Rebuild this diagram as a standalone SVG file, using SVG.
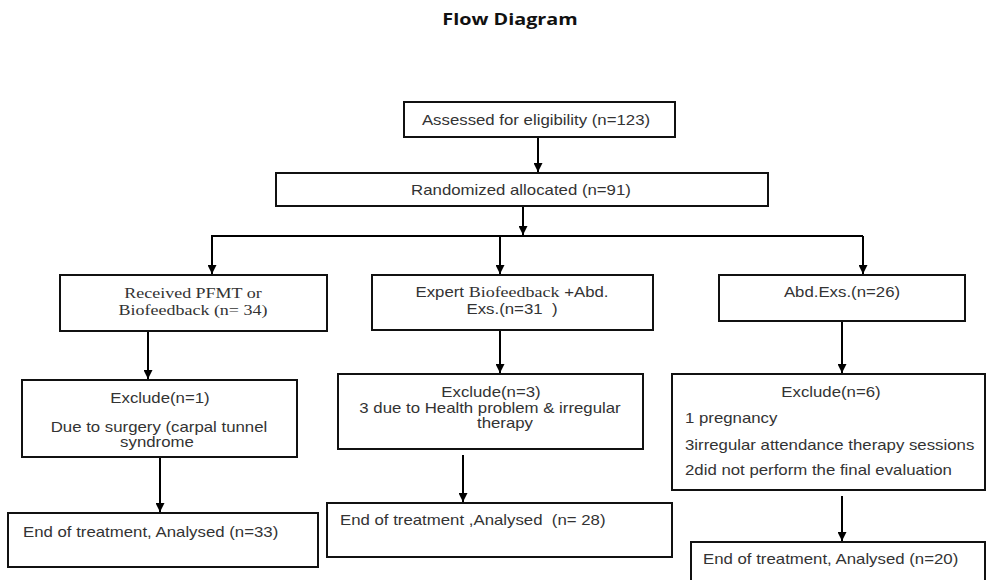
<svg xmlns="http://www.w3.org/2000/svg" width="988" height="580" viewBox="0 0 988 580">
<defs>
<marker id="ah" viewBox="0 0 10 10" refX="10" refY="5" markerWidth="4.5" markerHeight="4.5" orient="auto" markerUnits="strokeWidth">
<path d="M0,0 L10,5 L0,10 z" fill="#000"/>
</marker>
<style>
.box{fill:#fff;stroke:#111;stroke-width:2}
.t{font-family:"Liberation Sans",Arial,sans-serif;font-size:14px;fill:#333}
.s{font-family:"Liberation Serif","Times New Roman",serif;font-size:15px;fill:#333}
.c{text-anchor:middle}
.ln{stroke:#000;stroke-width:2;fill:none}
.ar{stroke:#000;stroke-width:2;fill:none;marker-end:url(#ah)}
.title{font-family:"Open Sans",sans-serif;font-weight:bold;font-size:16.5px;fill:#111}
</style>
</defs>
<rect width="988" height="580" fill="#fff"/>
<text class="title c" x="510" y="25" transform="matrix(1.2 0 0 1 -102 0)">Flow Diagram</text>
<g id="connectors">
<line class="ar" x1="538" y1="137" x2="538" y2="172"/>
<line class="ar" x1="523" y1="206" x2="523" y2="235"/>
<polyline class="ln" points="212,274 212,236 863,236"/>
<line class="ar" x1="212" y1="236" x2="212" y2="274"/>
<line class="ar" x1="500" y1="236" x2="500" y2="274"/>
<line class="ar" x1="863" y1="236" x2="863" y2="274"/>
<line class="ar" x1="148" y1="331" x2="148" y2="379"/>
<line class="ar" x1="500" y1="331" x2="500" y2="373"/>
<line class="ar" x1="842" y1="321" x2="842" y2="373"/>
<line class="ar" x1="160" y1="457" x2="160" y2="512"/>
<line class="ar" x1="463" y1="455" x2="463" y2="502"/>
<line class="ar" x1="842" y1="496" x2="842" y2="541"/>
</g>
<g id="n1"><rect class="box" x="404" y="102" width="271" height="35"/><text class="t c" x="536" y="125" transform="matrix(1.2 0 0 1 -107.2 0)">Assessed for eligibility (n=123)</text></g>
<g id="n2"><rect class="box" x="276" y="173" width="492" height="33"/><text class="t c" x="521" y="195" transform="matrix(1.2 0 0 1 -104.2 0)">Randomized allocated (n=91)</text></g>
<g id="n3"><rect class="box" x="60" y="275" width="267" height="56"/><text class="s c" x="193" y="298" transform="matrix(1.2 0 0 1 -38.6 0)">Received PFMT or</text><text class="s c" x="193" y="315" transform="matrix(1.2 0 0 1 -38.6 0)">Biofeedback (n= 34)</text></g>
<g id="n4"><rect class="box" x="372" y="275" width="281" height="55"/><text class="t c" x="512" y="297" transform="matrix(1.2 0 0 1 -102.4 0)">Expert <tspan class="s">Biofeedback</tspan> +Abd.</text><text class="t c" x="512" y="314" xml:space="preserve" transform="matrix(1.2 0 0 1 -102.4 0)">Exs.(n=31  )</text></g>
<g id="n5"><rect class="box" x="719" y="275" width="246" height="46"/><text class="t c" x="842" y="297" transform="matrix(1.2 0 0 1 -168.4 0)">Abd.Exs.(n=26)</text></g>
<g id="n6"><rect class="box" x="22" y="380" width="275" height="77"/><text class="t c" x="160" y="403" transform="matrix(1.2 0 0 1 -32 0)">Exclude(n=1)</text><text class="t c" x="159" y="432" transform="matrix(1.2 0 0 1 -31.8 0)">Due to surgery (carpal tunnel</text><text class="t c" x="157" y="447" transform="matrix(1.2 0 0 1 -31.4 0)">syndrome</text></g>
<g id="n7"><rect class="box" x="338" y="374" width="305" height="75"/><text class="t c" x="491" y="397" transform="matrix(1.2 0 0 1 -98.2 0)">Exclude(n=3)</text><text class="t c" x="490" y="413" transform="matrix(1.2 0 0 1 -98 0)">3 due to Health problem &amp; irregular</text><text class="t c" x="505" y="428" transform="matrix(1.2 0 0 1 -101 0)">therapy</text></g>
<g id="n8"><rect class="box" x="672" y="374" width="313" height="116"/><text class="t c" x="831" y="397" transform="matrix(1.2 0 0 1 -166.2 0)">Exclude(n=6)</text><text class="t" x="685" y="423" transform="matrix(1.2 0 0 1 -137 0)">1 pregnancy</text><text class="t" x="685" y="450" transform="matrix(1.2 0 0 1 -137 0)">3irregular attendance therapy sessions</text><text class="t" x="685" y="475" transform="matrix(1.2 0 0 1 -137 0)">2did not perform the final evaluation</text></g>
<g id="n9"><rect class="box" x="8" y="513" width="310" height="54"/><text class="t" x="23" y="537" transform="matrix(1.2 0 0 1 -4.6 0)">End of treatment, Analysed (n=33)</text></g>
<g id="n10"><rect class="box" x="327" y="503" width="345" height="54"/><text class="t" x="340" y="525" xml:space="preserve" transform="matrix(1.2 0 0 1 -68 0)">End of treatment ,Analysed  (n= 28)</text></g>
<g id="n11"><rect class="box" x="691" y="542" width="294" height="60"/><text class="t" x="703" y="564" transform="matrix(1.2 0 0 1 -140.6 0)">End of treatment, Analysed (n=20)</text></g>
</svg>
